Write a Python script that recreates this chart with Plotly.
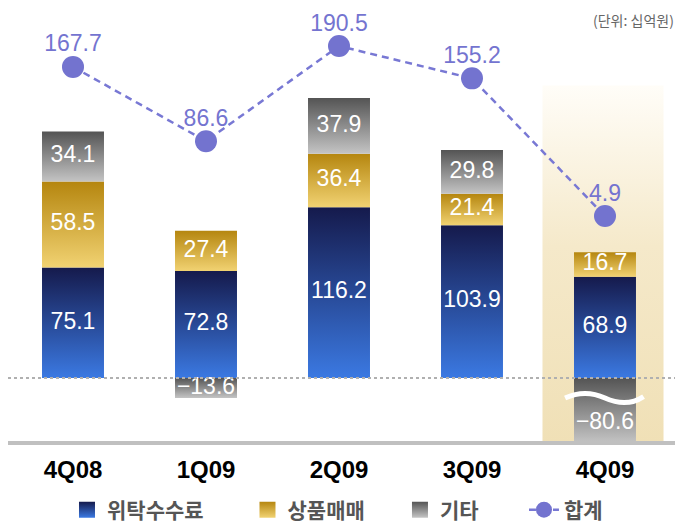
import plotly.graph_objects as go

# values (십억원)
categories = ["4Q08", "1Q09", "2Q09", "3Q09", "4Q09"]
commission = [75.1, 72.8, 116.2, 103.9, 68.9]   # 위탁수수료
trading = [58.5, 27.4, 36.4, 21.4, 16.7]        # 상품매매
other = [34.1, -13.6, 37.9, 29.8, -80.6]        # 기타
total = [167.7, 86.6, 190.5, 155.2, 4.9]        # 합계

series = [
    ("위탁수수료", commission, "#3b79e2", "#151a4c"),
    ("상품매매", trading, "#f1d272", "#b5860f"),
    ("기타", other, "#c4c4c4", "#545454"),
]

Y_MIN, Y_MAX = -44.2, 251.7
Y2_MIN, Y2_MAX = -242.9, 232.0
HALF_W = 0.233
BREAK_Y = -13.6

fig = go.Figure()

# highlight behind the last quarter
hl_x = len(categories) - 1
fig.add_trace(go.Scatter(
    x=[hl_x - 0.47, hl_x + 0.44, hl_x + 0.44, hl_x - 0.47, hl_x - 0.47],
    y=[Y_MIN, Y_MIN, 199, 199, Y_MIN],
    fill="toself", mode="none", showlegend=False, hoverinfo="skip",
    fillgradient=dict(type="vertical",
                      colorscale=[[0, "#f0e0b6"], [0.55, "#f5e9ca"], [1, "#fffdf8"]]),
))

# stacked segments with vertical gradients
pos_base = [0.0] * len(categories)
neg_base = [0.0] * len(categories)
lab_x, lab_y, lab_t = [], [], []
for name, vals, light, dark in series:
    for i, v in enumerate(vals):
        if v >= 0:
            lo, hi = pos_base[i], pos_base[i] + v
            pos_base[i] = hi
        else:
            lo, hi = neg_base[i] + v, neg_base[i]
            neg_base[i] = lo
        grad = dict(type="vertical", colorscale=[[0, light], [1, dark]])
        if lo < Y_MIN:
            grad["start"] = Y_MIN
            grad["stop"] = hi
            ly = (BREAK_Y + Y_MIN) / 2 - 2
        else:
            ly = (lo + hi) / 2
        fig.add_trace(go.Scatter(
            x=[i - HALF_W, i + HALF_W, i + HALF_W, i - HALF_W, i - HALF_W],
            y=[lo, lo, hi, hi, lo],
            fill="toself", mode="none", fillgradient=grad,
            showlegend=False, hoverinfo="skip",
        ))
        lab_x.append(i)
        lab_y.append(ly)
        lab_t.append(f"{v:.1f}".replace("-", "−"))

fig.add_trace(go.Scatter(
    x=lab_x, y=lab_y, text=lab_t, mode="text", showlegend=False, hoverinfo="skip",
    textfont=dict(family="Arial, Liberation Sans", size=23, color="white"),
))

# legend swatches, one legend each so they can be spaced like the original
legend_ids = ["legend", "legend2", "legend3", "legend4"]
legend_x = [0.0874, 0.3548, 0.5807, 0.7644]
for (name, vals, light, dark), lid in zip(series, legend_ids):
    fig.add_trace(go.Scatter(
        x=[None], y=[None], mode="markers", name=name, legend=lid,
        marker=dict(symbol="square", size=16, color=dark,
                    gradient=dict(type="vertical", color=light)),
    ))

# total line on its own scale
fig.add_trace(go.Scatter(
    x=list(range(len(categories))), y=total, yaxis="y2", name="합계",
    legend=legend_ids[3], mode="lines+markers",
    line=dict(color="#7878d4", width=2.5, dash="7px,5px"),
    marker=dict(size=22, color="#7373cf"),
    hoverinfo="skip",
))
# its value labels (invisible markers set the gap between label and dot)
fig.add_trace(go.Scatter(
    x=list(range(len(categories))), y=total, yaxis="y2", showlegend=False,
    mode="markers+text", text=[f"{v:.1f}" for v in total],
    textposition="top center", cliponaxis=False,
    marker=dict(size=14, opacity=0),
    textfont=dict(family="Arial, Liberation Sans", size=23, color="#7474d0"),
    hoverinfo="skip",
))

legend_font = dict(family="Noto Sans CJK KR", size=21, color="#555555", weight="bold")
legends = {
    lid: dict(orientation="h", x=lx, xanchor="left", y=-0.154, yanchor="middle",
              font=legend_font, bgcolor="rgba(0,0,0,0)")
    for lid, lx in zip(legend_ids, legend_x)
}

fig.update_layout(
    width=675, height=515, autosize=False,
    margin=dict(l=0, r=0, t=0, b=80, autoexpand=False),
    paper_bgcolor="white", plot_bgcolor="white",
    xaxis=dict(range=[-0.4887, 4.5865], tickvals=list(range(len(categories))),
               ticktext=categories, showgrid=False, zeroline=False, showline=False,
               ticklabelstandoff=10, automargin=False,
               tickfont=dict(family="Arial, Liberation Sans", size=24, color="black",
                             weight="bold")),
    yaxis=dict(range=[Y_MIN, Y_MAX], visible=False),
    yaxis2=dict(range=[Y2_MIN, Y2_MAX], overlaying="y", visible=False),
    shapes=[
        dict(type="line", xref="paper", yref="y", x0=0, x1=1, y0=0, y1=0,
             line=dict(color="#b0b0b0", width=2, dash="dot"), layer="above"),
        dict(type="line", xref="paper", yref="paper", x0=0, x1=1, y0=0, y1=0,
             line=dict(color="#c0c0c0", width=4), layer="above"),
        dict(type="path", xref="x", yref="y", layer="above",
             path=f"M 3.70,{BREAK_Y} C 3.80,-9.5 3.90,-9.5 4.0,{BREAK_Y} "
                  f"S 4.2,-18.0 4.29,-12.6",
             line=dict(color="white", width=5)),
    ],
    annotations=[
        dict(text="(단위: 십억원)", xref="paper", yref="paper", x=0.9896, y=1,
             xanchor="right", yanchor="top", showarrow=False,
             font=dict(family="Noto Sans CJK KR", size=14, color="#666666")),
    ],
    **legends,
)

fig.write_html("out.html")
